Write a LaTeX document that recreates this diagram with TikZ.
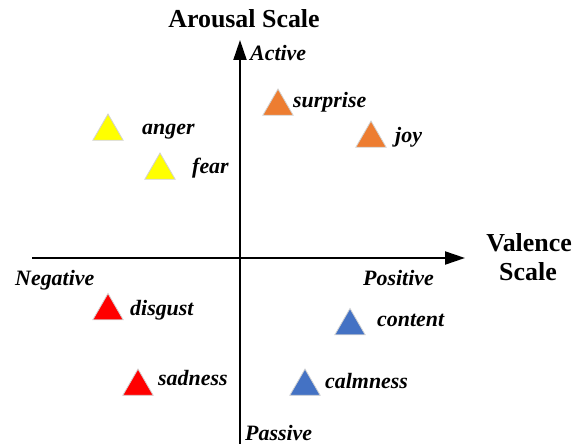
\documentclass[tikz,border=0pt]{standalone}
\usepackage{fontspec}
\setmainfont{Liberation Serif}
\usetikzlibrary{arrows.meta,shapes.geometric}
\definecolor{emoyellow}{HTML}{FFFF00}
\definecolor{emoorange}{HTML}{ED7D31}
\definecolor{emored}{HTML}{FF0000}
\definecolor{emoblue}{HTML}{4472C4}

\begin{document}
\begin{tikzpicture}[
    x=1bp, y=-1bp,
    tri/.style={regular polygon, regular polygon sides=3, minimum size=35bp,
        inner sep=0pt, draw=gray!35, line width=0.8bp, fill=#1},
    emo/.style={anchor=base west, inner sep=0pt, font=\fontsize{22}{24}\selectfont\bfseries\itshape},
    title/.style={align=center, inner sep=0pt, font=\fontsize{26}{30}\selectfont\bfseries},
    axis/.style={line width=2bp, -{Triangle[length=20bp,width=13bp]}}
]
\useasboundingbox (0,0) rectangle (574,444);

% axes
\coordinate (vleft) at (32,258);
\coordinate (vright) at (465,258);
\coordinate (abottom) at (240,444);
\coordinate (atop) at (240,40);
\draw[axis] (vleft) -- (vright);
\draw[axis] (abottom) -- (atop);

\node[title, anchor=base] (arousal) at (244,28) {Arousal Scale};
\node[title, anchor=base east] (valence) at (572,252) {Valence};
\node[title, anchor=base] (vscale) at (528,281) {Scale};

\node[emo] (active) at (250,61) {Active};
\node[emo] (passive) at (245,440) {Passive};
\node[emo] (negative) at (15,286) {Negative};
\node[emo] (positive) at (363,286) {Positive};

% emotions
\node[tri=emoyellow] (angertri) at (108,131.5) {};
\node[emo] (anger) at (142,135) {anger};
\node[tri=emoyellow] (feartri) at (160,170.5) {};
\node[emo] (fear) at (192,174) {fear};
\node[tri=emoorange] (surprisetri) at (278,106.5) {};
\node[emo] (surprise) at (293,108) {surprise};
\node[tri=emoorange] (joytri) at (371,138.5) {};
\node[emo] (joy) at (395,143) {joy};
\node[tri=emored] (disgusttri) at (108,311) {};
\node[emo] (disgust) at (130,315) {disgust};
\node[tri=emoblue] (contenttri) at (350,326) {};
\node[emo] (content) at (377,326) {content};
\node[tri=emored] (sadnesstri) at (138,386.5) {};
\node[emo] (sadness) at (158,385) {sadness};
\node[tri=emoblue] (calmnesstri) at (305,386.5) {};
\node[emo] (calmness) at (325,388) {calmness};
\end{tikzpicture}
\end{document}
